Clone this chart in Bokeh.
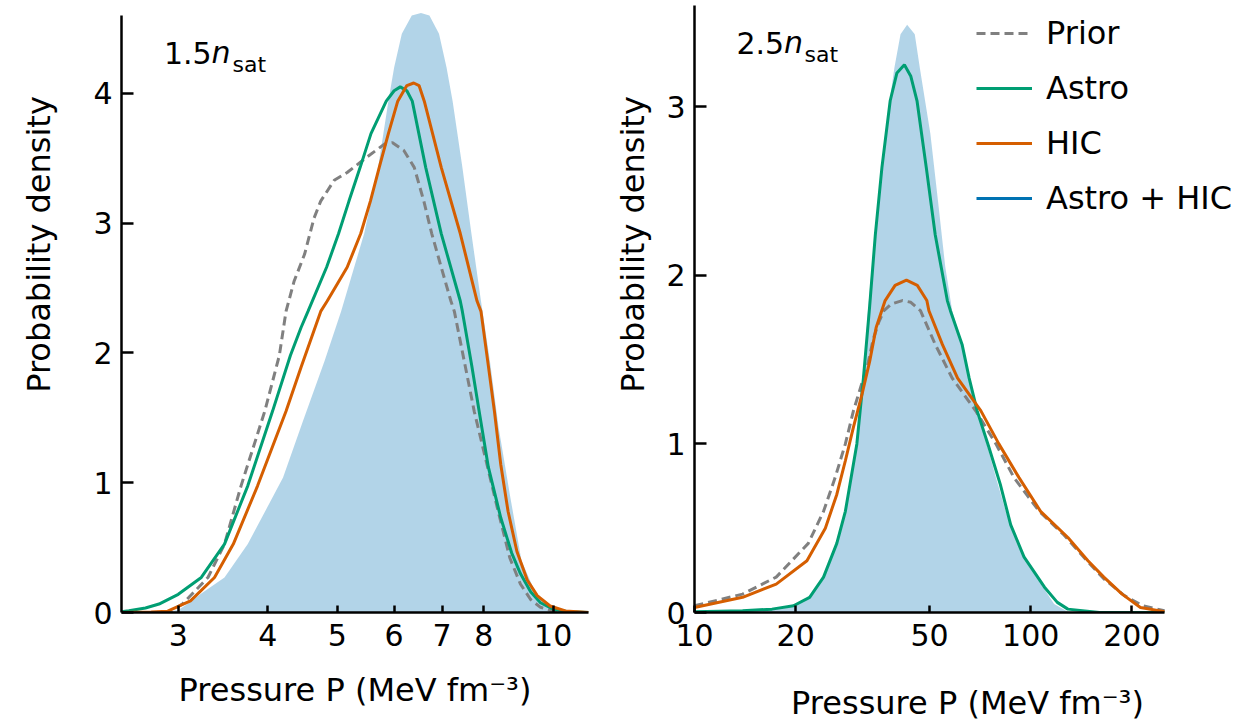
from math import pi
from bokeh.plotting import figure
from bokeh.models import Range1d, FixedTicker, PrintfTickFormatter, Label, Legend, LegendItem
from bokeh.layouts import row
from bokeh.embed import file_html
from bokeh.resources import INLINE

FONT = "DejaVu Sans"

# ---------------- data: 1.5 n_sat ----------------
joint15_P = [2.50, 2.85, 3.00, 3.09, 3.23, 3.48, 3.75, 4.20, 4.48, 4.80, 5.06, 5.45, 5.70, 5.89, 6.00, 6.15, 6.35,
             6.54, 6.72, 6.93, 7.10, 7.24, 7.47, 7.69, 7.93, 8.16, 8.39, 8.70, 9.03, 9.50, 10.0, 10.5, 11.2]
joint15_d = [0.0, 0.0, 0.02, 0.065, 0.146, 0.27, 0.527, 1.04, 1.48, 1.94, 2.32, 2.92, 3.43, 3.94, 4.20, 4.46, 4.60,
             4.62, 4.60, 4.46, 4.20, 3.94, 3.43, 2.92, 2.40, 1.94, 1.43, 0.91, 0.40, 0.12, 0.02, 0.005, 0.0]

astro15_P = [2.50, 2.56, 2.70, 2.82, 3.00, 3.23, 3.48, 3.75, 4.06, 4.30, 4.45, 4.55, 4.83, 5.02, 5.19, 5.38, 5.57,
             5.85, 6.00, 6.12, 6.25, 6.36, 6.64, 6.98, 7.42, 7.47, 7.70, 7.90, 8.12, 8.45, 8.75, 9.00, 9.30, 9.60,
             10.0, 10.5, 11.2]
astro15_d = [0.005, 0.013, 0.035, 0.065, 0.14, 0.27, 0.527, 0.976, 1.55, 1.98, 2.196, 2.32, 2.66, 2.92, 3.17, 3.43,
             3.69, 3.94, 4.02, 4.05, 4.02, 3.94, 3.43, 2.92, 2.40, 2.32, 1.90, 1.52, 1.12, 0.73, 0.46, 0.30, 0.16,
             0.075, 0.025, 0.006, 0.0]

hic15_P = [2.50, 2.75, 2.90, 3.12, 3.37, 3.58, 3.87, 4.24, 4.45, 4.74, 4.84, 5.16, 5.39, 5.56, 5.72, 5.89, 6.07,
           6.25, 6.39, 6.50, 6.61, 6.98, 7.42, 7.83, 7.93, 8.12, 8.28, 8.45, 8.65, 8.90, 9.20, 9.50, 9.90, 10.4, 11.2]
hic15_d = [0.0, 0.003, 0.01, 0.09, 0.27, 0.527, 0.976, 1.55, 1.89, 2.32, 2.40, 2.66, 2.92, 3.17, 3.43, 3.69, 3.94,
           4.06, 4.08, 4.06, 3.94, 3.43, 2.92, 2.40, 2.32, 1.90, 1.55, 1.14, 0.78, 0.47, 0.25, 0.13, 0.05, 0.012, 0.0]

prior15_P = [2.50, 2.80, 2.93, 3.04, 3.30, 3.48, 3.67, 3.96, 4.15, 4.24, 4.35, 4.50, 4.64, 4.74, 4.95, 5.16, 5.50,
             5.82, 5.97, 6.19, 6.40, 6.60, 6.77, 6.98, 7.20, 7.28, 7.76, 8.38, 8.45, 8.70, 9.00, 9.30, 9.60, 10.0,
             10.5, 11.2]
prior15_d = [0.0, 0.0, 0.01, 0.065, 0.27, 0.527, 0.976, 1.55, 1.98, 2.32, 2.55, 2.76, 3.04, 3.17, 3.33, 3.39, 3.51,
             3.61, 3.62, 3.56, 3.43, 3.17, 2.92, 2.66, 2.40, 2.32, 1.55, 0.78, 0.70, 0.42, 0.22, 0.10, 0.04, 0.01,
             0.002, 0.0]

# ---------------- data: 2.5 n_sat ----------------
joint25_P = [10.0, 13.9, 17.0, 19.7, 22.0, 24.2, 26.5, 28.1, 30.4, 31.8, 32.8, 33.7, 35.3, 36.9, 39.3, 41.0, 42.9,
             45.2, 46.8, 50.3, 53.0, 55.7, 58.4, 62.5, 65.6, 69.3, 74.0, 78.8, 84.3, 91.3, 103.9, 117.4, 129.0,
             160.0, 250.0]
joint25_d = [0.005, 0.008, 0.015, 0.04, 0.09, 0.21, 0.41, 0.60, 1.0, 1.39, 1.79, 2.05, 2.44, 2.84, 3.23, 3.43,
             3.486, 3.43, 3.23, 2.84, 2.44, 2.05, 1.79, 1.59, 1.39, 1.196, 1.0, 0.80, 0.60, 0.41, 0.21, 0.05, 0.005,
             0.0, 0.0]

astro25_P = [10.0, 13.9, 17.0, 19.7, 22.0, 24.2, 26.5, 28.1, 30.4, 31.8, 33.2, 34.5, 36.1, 38.2, 40.0, 42.1, 44.0,
             45.9, 48.9, 52.0, 56.5, 57.7, 62.5, 65.6, 69.3, 75.1, 81.2, 87.2, 95.5, 109.9, 120.0, 129.0, 160.0,
             250.0]
astro25_d = [0.005, 0.01, 0.02, 0.04, 0.09, 0.21, 0.41, 0.60, 1.0, 1.39, 1.82, 2.24, 2.64, 3.035, 3.20, 3.248,
             3.18, 3.035, 2.64, 2.24, 1.85, 1.79, 1.59, 1.39, 1.196, 0.98, 0.76, 0.52, 0.33, 0.15, 0.06, 0.02, 0.0,
             0.0]

hic25_P = [10.0, 13.9, 17.5, 21.6, 24.5, 26.5, 28.1, 29.7, 31.5, 33.2, 34.7, 36.9, 39.5, 42.7, 46.0, 49.1, 49.8,
           54.6, 60.6, 71.1, 80.4, 92.3, 107.0, 129.0, 148.0, 165.0, 187.0, 212.0, 250.0]
hic25_d = [0.03, 0.09, 0.168, 0.307, 0.50, 0.70, 0.90, 1.10, 1.295, 1.49, 1.69, 1.85, 1.94, 1.971, 1.94, 1.85,
           1.79, 1.59, 1.39, 1.196, 1.0, 0.80, 0.60, 0.445, 0.307, 0.21, 0.109, 0.03, 0.005]

prior25_P = [10.0, 13.9, 17.5, 21.8, 24.2, 26.2, 28.1, 29.7, 31.8, 32.6, 34.0, 35.3, 36.6, 38.5, 41.5, 44.0, 47.0,
             52.0, 58.4, 68.6, 78.8, 89.2, 106.0, 125.6, 145.0, 165.0, 190.0, 215.0, 250.0]
prior25_d = [0.04, 0.109, 0.21, 0.41, 0.60, 0.80, 1.0, 1.196, 1.39, 1.45, 1.62, 1.72, 1.79, 1.83, 1.85, 1.84, 1.79,
             1.59, 1.39, 1.196, 1.0, 0.80, 0.60, 0.46, 0.32, 0.20, 0.10, 0.04, 0.01]

# ticks / labels / axis extents
x15_ticks = [3, 4, 5, 6, 7, 8, 10]
y15_ticks = [0, 1, 2, 3, 4]
x25_ticks = [10, 20, 50, 100, 200]
y25_ticks = [0, 1, 2, 3]
x15_lim = (2.5, 11.2)
y15_lim = (0, 4.6)
x25_lim = (10, 250)
y25_lim = (0, 3.6)
series_names = ["Prior", "Astro", "HIC", "Astro + HIC"]
ylabel = "Probability density"
xlabel = "Pressure P (MeV fm\u207b\u00b3)"

C_PRIOR = "#808080"
C_ASTRO = "#009E73"
C_HIC = "#D55E00"
C_JOINT = "#0072B2"
LW = 3

FRAME_H = 607          # frame from y=5 to y=612
TOP = 5
BOTTOM = 106


def style(p, xticks, yticks, xlim, ylim, xlabel_standoff):
    p.grid.visible = False
    p.outline_line_color = None
    p.background_fill_color = "white"
    p.xaxis.ticker = FixedTicker(ticks=xticks)
    p.yaxis.ticker = FixedTicker(ticks=yticks)
    p.xaxis.formatter = PrintfTickFormatter(format="%d")
    p.xaxis.bounds = xlim
    p.yaxis.bounds = ylim
    for ax in p.axis:
        ax.axis_line_width = 2.5
        ax.axis_line_color = "black"
        ax.major_tick_line_width = 2.5
        ax.major_tick_line_color = "black"
        ax.major_tick_out = 0
        ax.minor_tick_line_color = None
        ax.major_label_text_font = FONT
        ax.major_label_text_font_size = "30px"
        ax.major_label_text_color = "black"
    p.xaxis.major_tick_in = 7
    p.yaxis.major_tick_in = 12
    p.xaxis.major_label_standoff = 11
    p.yaxis.major_label_standoff = 9
    p.xaxis.axis_label = xlabel
    p.xaxis.axis_label_text_font = FONT
    p.xaxis.axis_label_text_font_size = "32px"
    p.xaxis.axis_label_text_font_style = "normal"
    p.xaxis.axis_label_text_color = "black"
    p.xaxis.axis_label_standoff = xlabel_standoff


def ylabel_fig(width, cx):
    f = figure(frame_width=width, frame_height=FRAME_H, x_range=Range1d(0, 1), y_range=Range1d(0, 1),
               min_border_left=0, min_border_right=0, min_border_top=TOP, min_border_bottom=BOTTOM,
               x_axis_location=None, y_axis_location=None,
               output_backend="svg", toolbar_location=None)
    f.outline_line_color = None
    f.grid.visible = False
    f.add_layout(Label(x=cx, y=612 - 244, x_units="screen", y_units="screen", text=ylabel,
                       angle=pi / 2, text_align="center", text_baseline="middle",
                       text_font=FONT, text_font_size="32px", text_color="black"))
    return f


def panel_title(p, num, num_x, num_y, sub_x, sub_y):
    p.add_layout(Label(x=num_x, y=num_y, x_units="screen", y_units="screen", text=num,
                       text_baseline="alphabetic", text_font=FONT, text_font_size="30px", text_color="black"))
    p.add_layout(Label(x=num_x + 47.5, y=num_y, x_units="screen", y_units="screen", text="n",
                       text_baseline="alphabetic", text_font=FONT, text_font_size="30px",
                       text_font_style="italic", text_color="black"))
    p.add_layout(Label(x=sub_x, y=sub_y, x_units="screen", y_units="screen", text="sat",
                       text_baseline="alphabetic", text_font=FONT, text_font_size="22px", text_color="black"))


# ---------------- left label column ----------------
lab1 = ylabel_fig(70, 38)

# ---------------- left panel ----------------
y15_end = y15_lim[1] * FRAME_H / 597.0
p1 = figure(frame_width=467, frame_height=FRAME_H, x_axis_type="log",
            x_range=Range1d(*x15_lim), y_range=Range1d(0, y15_end),
            min_border_left=51, min_border_right=20, min_border_top=TOP, min_border_bottom=BOTTOM,
            output_backend="svg", toolbar_location=None)
p1.varea(x=joint15_P, y1=0, y2=joint15_d, fill_color=C_JOINT, fill_alpha=0.3)
p1.line(prior15_P, prior15_d, line_color=C_PRIOR, line_width=LW, line_dash="9 5")
p1.line(astro15_P, astro15_d, line_color=C_ASTRO, line_width=LW)
p1.line(hic15_P, hic15_d, line_color=C_HIC, line_width=LW)
style(p1, x15_ticks, y15_ticks, x15_lim, y15_lim, 22)
panel_title(p1, "1.5", 42.5, 560, 111, 548.5)

# ---------------- right label column ----------------
lab2 = ylabel_fig(52, 24)

# ---------------- right panel ----------------
FW2 = 546
x25_end = x25_lim[0] * (x25_lim[1] / x25_lim[0]) ** (FW2 / 470.0)
p2 = figure(frame_width=FW2, frame_height=FRAME_H, x_axis_type="log",
            x_range=Range1d(x25_lim[0], x25_end), y_range=Range1d(*y25_lim),
            min_border_left=34, min_border_right=4, min_border_top=TOP, min_border_bottom=BOTTOM,
            output_backend="svg", toolbar_location=None)
p2.varea(x=joint25_P, y1=0, y2=joint25_d, fill_color=C_JOINT, fill_alpha=0.3)
r_prior = p2.line(prior25_P, prior25_d, line_color=C_PRIOR, line_width=LW, line_dash="9 5")
r_astro = p2.line(astro25_P, astro25_d, line_color=C_ASTRO, line_width=LW)
r_hic = p2.line(hic25_P, hic25_d, line_color=C_HIC, line_width=LW)
# the joint posterior is shown as the shaded area; this line only provides its legend key
r_joint = p2.line(x=joint25_P, y=[float("nan")] * len(joint25_P), line_color=C_JOINT, line_width=LW)
style(p2, x25_ticks, y25_ticks, x25_lim, y25_lim, 35)
panel_title(p2, "2.5", 42, 570, 110, 558.5)

legend = Legend(items=[LegendItem(label=n, renderers=[r]) for n, r in
                       zip(series_names, [r_prior, r_astro, r_hic, r_joint])],
                location=(282, 394), orientation="vertical",
                glyph_width=56, glyph_height=40, label_height=40, label_standoff=14, spacing=15,
                padding=0, margin=0, border_line_color=None, background_fill_alpha=0,
                label_text_font=FONT, label_text_font_size="32px", label_text_color="black",
                label_text_baseline="middle")
p2.add_layout(legend)

layout = row(lab1, p1, lab2, p2)
open("out.html", "w").write(file_html(layout, INLINE))
